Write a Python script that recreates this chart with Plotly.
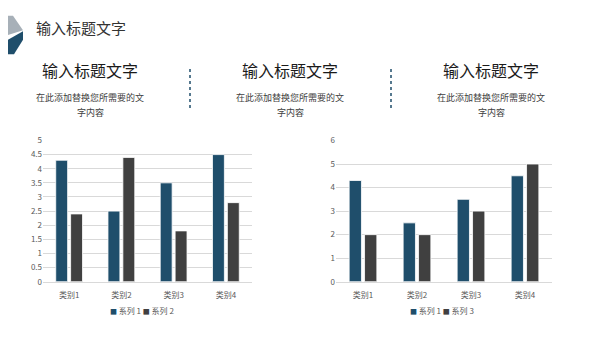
import plotly.graph_objects as go

categories = ["类别1", "类别2", "类别3", "类别4"]
series1 = [4.3, 2.5, 3.5, 4.5]
series2 = [2.4, 4.4, 1.8, 2.8]
series3 = [2, 2, 3, 5]
left_ticks = [0, 0.5, 1, 1.5, 2, 2.5, 3, 3.5, 4, 4.5, 5]
right_ticks = [0, 1, 2, 3, 4, 5, 6]

page_title = "输入标题文字"
section_title = "输入标题文字"
section_text1 = "在此添加替换您所需要的文"
section_text2 = "字内容"
left_names = ["系列 1", "系列 2"]
right_names = ["系列 1", "系列 3"]

C1 = "#1F4E6B"
C2 = "#404040"
W, H = 600, 338
FONT = "Noto Sans CJK SC"


def px(x):
    return x / W


def py(y):
    return 1 - y / H


fig = go.Figure()
line = dict(color="white", width=0.8)
fig.add_trace(go.Bar(x=categories, y=series1, name=left_names[0], marker=dict(color=C1, line=line),
                     xaxis="x", yaxis="y", showlegend=False))
fig.add_trace(go.Bar(x=categories, y=series2, name=left_names[1], marker=dict(color=C2, line=line),
                     xaxis="x", yaxis="y", showlegend=False))
fig.add_trace(go.Bar(x=categories, y=series1, name=right_names[0], marker=dict(color=C1, line=line),
                     xaxis="x2", yaxis="y2", showlegend=False))
fig.add_trace(go.Bar(x=categories, y=series3, name=right_names[1], marker=dict(color=C2, line=line),
                     xaxis="x2", yaxis="y2", showlegend=False))

tickfont = dict(family=FONT, size=8, color="#595959")
xcommon = dict(showgrid=False, showline=True, linecolor="#D9D9D9", linewidth=1,
               tickfont=tickfont, ticks="", fixedrange=True, ticklabelstandoff=6)
ycommon = dict(showgrid=True, gridcolor="#D9D9D9", gridwidth=1, zeroline=False,
               showline=False, tickfont=tickfont, ticks="", fixedrange=True)

ydom = [py(285), py(139)]
fig.update_layout(
    width=W, height=H,
    margin=dict(l=0, r=0, t=0, b=0),
    paper_bgcolor="white", plot_bgcolor="white",
    barmode="group", bargap=0.43, bargroupgap=0.2,
    font=dict(family=FONT),
    showlegend=False,
    xaxis=dict(domain=[px(43), px(252)], anchor="y", **xcommon),
    yaxis=dict(domain=ydom, anchor="x", range=[0, 5], tickvals=left_ticks,
               ticktext=[str(t) for t in left_ticks], **ycommon),
    xaxis2=dict(domain=[px(336), px(552)], anchor="y2", **xcommon),
    yaxis2=dict(domain=ydom, anchor="x2", range=[0, 6], tickvals=right_ticks, **ycommon),
)


def legend_text(names):
    cols = [C1, C2]
    return " ".join(f'<span style="color:{c};font-size:7px">■</span> {n}' for c, n in zip(cols, names))


annotations = [
    dict(text=page_title, x=px(34), y=py(22), xanchor="left", yanchor="middle",
         font=dict(family=FONT, size=15, color="#333333")),
    dict(text=legend_text(left_names), x=px(108), y=py(315), xanchor="left", yanchor="middle",
         font=dict(family=FONT, size=8, color="#595959")),
    dict(text=legend_text(right_names), x=px(408), y=py(315), xanchor="left", yanchor="middle",
         font=dict(family=FONT, size=8, color="#595959")),
]
for cx in [90, 290, 491]:
    annotations.append(dict(text=section_title, x=px(cx), y=py(66), xanchor="center", yanchor="middle",
                            font=dict(family=FONT, size=16, color="#1a1a1a")))
    annotations.append(dict(text=section_text1, x=px(cx), y=py(95), xanchor="center", yanchor="middle",
                            font=dict(family=FONT, size=9, color="#404040")))
    annotations.append(dict(text=section_text2, x=px(cx), y=py(110), xanchor="center", yanchor="middle",
                            font=dict(family=FONT, size=9, color="#404040")))
for a in annotations:
    a.update(xref="paper", yref="paper", showarrow=False)
fig.update_layout(annotations=annotations)


def path(points):
    return "M " + " L ".join(f"{px(x)},{py(y)}" for x, y in points) + " Z"


shapes = [
    dict(type="path", path=path([(8, 10), (13, 10), (23, 25), (8, 30)]),
         fillcolor="#A7B0B8", line=dict(width=0)),
    dict(type="path", path=path([(8, 35), (23, 26), (23, 35), (14, 50), (8, 50)]),
         fillcolor=C1, line=dict(width=0)),
]
for x in [190, 391]:
    shapes.append(dict(type="line", x0=px(x), x1=px(x), y0=py(65), y1=py(107),
                       line=dict(color=C1, width=1.5, dash="dot")))
for s in shapes:
    s.update(xref="paper", yref="paper")
fig.update_layout(shapes=shapes)

fig.write_html("out.html")
